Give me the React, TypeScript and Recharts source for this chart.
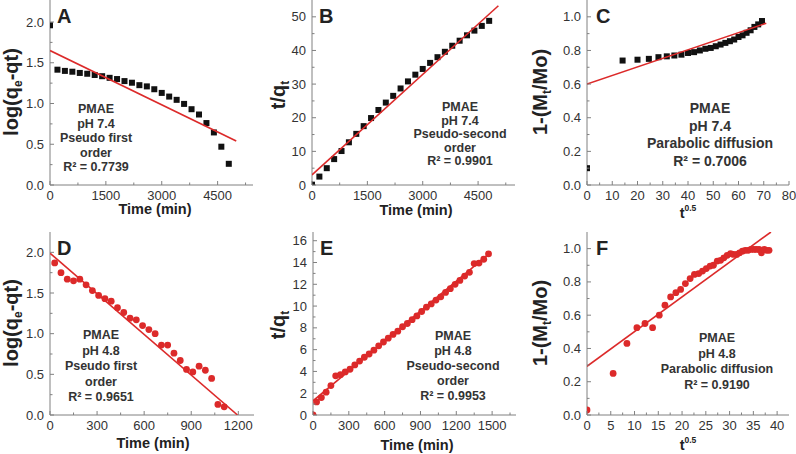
import React from 'react';
import { ScatterChart, Scatter, XAxis, YAxis } from 'recharts';

const FONT = '"Liberation Sans", Arial, Helvetica, sans-serif';
const AXIS = '#808080';
const RED = '#dc2a2a';
const BLACK = '#111111';
const TXT = '#333333';

// ---------- Panel A (pH 7.4, pseudo first order) ----------
const timeA = [0, 200, 400, 600, 800, 1000, 1200, 1400, 1600, 1800, 2000, 2200, 2400, 2600, 2800, 3000, 3200, 3400, 3600, 3800, 4000, 4200, 4400, 4600, 4800];
const logA = [1.96, 1.415, 1.4, 1.39, 1.375, 1.365, 1.35, 1.335, 1.315, 1.3, 1.275, 1.255, 1.225, 1.21, 1.175, 1.13, 1.085, 1.045, 0.995, 0.93, 0.865, 0.76, 0.645, 0.47, 0.26];
const fitAx = [0, 5000];
const fitAy = [1.65, 0.54];

// ---------- Panel B (pH 7.4, pseudo second order) ----------
const timeB = [0, 200, 400, 600, 800, 1000, 1200, 1400, 1600, 1800, 2000, 2200, 2400, 2600, 2800, 3000, 3200, 3400, 3600, 3800, 4000, 4200, 4400, 4600, 4800];
const tqB = [0.1, 2.5, 5.0, 7.7, 10.1, 12.7, 15.2, 17.5, 19.9, 22.3, 24.5, 26.5, 28.7, 30.8, 32.8, 34.5, 36.3, 38.0, 39.6, 41.4, 42.9, 44.5, 45.9, 47.3, 48.8];
const fitBx = [0, 5050];
const fitBy = [3.0, 53.3];

// ---------- Panel C (pH 7.4, parabolic diffusion) ----------
const sqrtC = [0, 14.1, 20.0, 24.5, 28.3, 31.6, 34.6, 37.4, 40.0, 42.4, 44.7, 46.9, 49.0, 51.0, 52.9, 54.8, 56.6, 58.3, 60.0, 61.6, 63.2, 64.8, 66.3, 67.8, 69.3];
const relC = [0.1, 0.74, 0.745, 0.75, 0.76, 0.765, 0.77, 0.775, 0.785, 0.79, 0.8, 0.81, 0.815, 0.825, 0.835, 0.845, 0.855, 0.865, 0.88, 0.89, 0.905, 0.92, 0.94, 0.955, 0.975];
const fitCx = [0, 71];
const fitCy = [0.6, 0.962];

// ---------- Panel D (pH 4.8, pseudo first order) ----------
const timeD = [30, 70, 110, 150, 190, 230, 270, 310, 350, 390, 430, 470, 510, 550, 590, 630, 670, 710, 750, 790, 830, 870, 910, 950, 990, 1030, 1070, 1110];
const logD = [1.87, 1.75, 1.67, 1.65, 1.67, 1.6, 1.53, 1.47, 1.43, 1.4, 1.32, 1.26, 1.19, 1.17, 1.1, 1.05, 1.0, 0.86, 0.86, 0.76, 0.67, 0.56, 0.53, 0.6, 0.55, 0.45, 0.13, 0.1];
const fitDx = [0, 1195];
const fitDy = [1.99, 0.0];

// ---------- Panel E (pH 4.8, pseudo second order) ----------
const timeE = [0, 30, 70, 110, 150, 190, 230, 270, 310, 350, 390, 430, 470, 510, 550, 590, 630, 670, 710, 750, 790, 830, 870, 910, 950, 990, 1030, 1070, 1110, 1150, 1190, 1230, 1270, 1310, 1350, 1390, 1430, 1470];
const tqE = [0, 1.2, 1.6, 2.1, 2.7, 3.6, 3.7, 3.95, 4.2, 4.6, 4.95, 5.3, 5.6, 5.95, 6.35, 6.7, 7.05, 7.4, 7.7, 8.1, 8.4, 8.75, 9.1, 9.5, 9.9, 10.2, 10.55, 10.85, 11.25, 11.6, 12.0, 12.35, 12.75, 13.1, 13.9, 13.95, 14.3, 14.8];
const fitEx = [0, 1480];
const fitEy = [1.3, 14.85];

// ---------- Panel F (pH 4.8, parabolic diffusion) ----------
const sqrtF = [0, 5.5, 8.4, 10.5, 12.2, 13.8, 15.2, 16.4, 17.6, 18.7, 19.7, 20.7, 21.7, 22.6, 23.5, 24.3, 25.1, 25.9, 26.6, 27.4, 28.1, 28.8, 29.5, 30.2, 30.8, 31.5, 32.1, 32.7, 33.3, 33.9, 34.5, 35.1, 35.6, 36.2, 36.7, 37.3, 37.8, 38.3];
const relF = [0.03, 0.25, 0.43, 0.525, 0.55, 0.525, 0.6, 0.66, 0.71, 0.735, 0.755, 0.79, 0.82, 0.845, 0.85, 0.865, 0.88, 0.895, 0.9, 0.925, 0.93, 0.945, 0.96, 0.97, 0.965, 0.965, 0.975, 0.985, 0.99, 0.99, 0.995, 0.995, 0.995, 0.995, 0.975, 0.995, 0.99, 0.99];
const fitFx = [0, 38.7];
const fitFy = [0.293, 1.1];

// ---------- Ticks ----------
const timeTicks5000 = [0, 1500, 3000, 4500];
const timeMinor5000 = [750, 2250, 3750, 5250];
const timeTicks1200 = [0, 300, 600, 900, 1200];
const timeMinor1200 = [150, 450, 750, 1050];
const timeTicks1500 = [0, 300, 600, 900, 1200, 1500];
const timeMinor1500 = [150, 450, 750, 1050, 1350, 1650];
const sqrtTicksC = [0, 10, 20, 30, 40, 50, 60, 70, 80];
const sqrtMinorC = [5, 15, 25, 35, 45, 55, 65, 75];
const sqrtTicksF = [0, 5, 10, 15, 20, 25, 30, 35, 40];
const sqrtMinorF = [2.5, 7.5, 12.5, 17.5, 22.5, 27.5, 32.5, 37.5];
const logTicks = [0, 0.5, 1.0, 1.5, 2.0];
const logMinor = [0.25, 0.75, 1.25, 1.75];
const tqTicksB = [0, 10, 20, 30, 40, 50];
const tqMinorB = [5, 15, 25, 35, 45];
const tqTicksE = [0, 2, 4, 6, 8, 10, 12, 14, 16];
const tqMinorE = [1, 3, 5, 7, 9, 11, 13, 15];
const relTicks = [0, 0.2, 0.4, 0.6, 0.8, 1.0];
const relMinor = [0.1, 0.3, 0.5, 0.7, 0.9];

const fmt0 = (v: number) => String(v);
const fmt1 = (v: number) => v.toFixed(1);

const zip = (xs: number[], ys: number[]) => xs.map((x, i) => ({ x, y: ys[i] }));

const isIn = (arr: number[], v: number) => arr.some((m) => Math.abs(m - v) < 1e-9);

const makeXTick = (majors: number[], fmt: (v: number) => string) => (props: any) => {
  const { x, y, payload } = props;
  const v = payload.value;
  const major = isIn(majors, v);
  return (
    <g>
      <line x1={x} x2={x} y1={y} y2={y - (major ? 4 : 2.5)} stroke={AXIS} strokeWidth={1} />
      {major && (
        <text x={x} y={y + 14.5} textAnchor="middle" fontSize={13} fill={TXT} fontFamily={FONT}>
          {fmt(v)}
        </text>
      )}
    </g>
  );
};

const makeYTick = (majors: number[], fmt: (v: number) => string) => (props: any) => {
  const { x, y, payload } = props;
  const v = payload.value;
  const major = isIn(majors, v);
  return (
    <g>
      <line x1={x} x2={x + (major ? 4 : 2.5)} y1={y} y2={y} stroke={AXIS} strokeWidth={1} />
      {major && (
        <text x={x - 6} y={y + 4.5} textAnchor="end" fontSize={13} fill={TXT} fontFamily={FONT}>
          {fmt(v)}
        </text>
      )}
    </g>
  );
};

const SquareDot = (p: any) => <rect x={p.cx - 3} y={p.cy - 3} width={6} height={6} fill={BLACK} />;
const RoundDot = (p: any) => <circle cx={p.cx} cy={p.cy} r={3.4} fill={RED} />;
const NoDot = () => <g />;

type PanelProps = {
  left: number;
  top: number;
  w: number;
  h: number;
  xDomain: [number, number];
  yDomain: [number, number];
  xMajor: number[];
  xMinor: number[];
  yMajor: number[];
  yMinor: number[];
  xFmt: (v: number) => string;
  yFmt: (v: number) => string;
  points: { x: number; y: number }[];
  fit: { x: number; y: number }[];
  round: boolean;
};

const Panel = (p: PanelProps) => {
  const ML = 50;
  const MT = 5;
  const MR = 10;
  const MB = 30;
  return (
    <div style={{ position: 'absolute', left: p.left - ML, top: p.top - MT }}>
      <ScatterChart
        width={p.w + ML + MR}
        height={p.h + MT + MB}
        margin={{ top: MT, right: MR, bottom: 0, left: 0 }}
      >
        <XAxis
          xAxisId="b"
          type="number"
          dataKey="x"
          domain={p.xDomain}
          ticks={[...p.xMajor, ...p.xMinor].filter((v) => v <= p.xDomain[1])}
          interval={0}
          tickSize={0}
          tickMargin={0}
          tickLine={false}
          height={MB}
          axisLine={{ stroke: AXIS, strokeWidth: 1 }}
          tick={makeXTick(p.xMajor, p.xFmt)}
          allowDataOverflow
        />
        <XAxis
          xAxisId="t"
          type="number"
          orientation="top"
          domain={p.xDomain}
          height={0}
          tick={false}
          tickLine={false}
          axisLine={{ stroke: AXIS, strokeWidth: 1 }}
          allowDataOverflow
        />
        <YAxis
          yAxisId="l"
          type="number"
          dataKey="y"
          domain={p.yDomain}
          ticks={[...p.yMajor, ...p.yMinor].filter((v) => v <= p.yDomain[1])}
          interval={0}
          tickSize={0}
          tickMargin={0}
          tickLine={false}
          width={ML}
          axisLine={{ stroke: AXIS, strokeWidth: 1 }}
          tick={makeYTick(p.yMajor, p.yFmt)}
          allowDataOverflow
        />
        <YAxis
          yAxisId="r"
          type="number"
          orientation="right"
          domain={p.yDomain}
          width={0}
          tick={false}
          tickLine={false}
          axisLine={{ stroke: AXIS, strokeWidth: 1 }}
          allowDataOverflow
        />
        <Scatter
          xAxisId="b"
          yAxisId="l"
          data={p.points}
          shape={p.round ? RoundDot : SquareDot}
          isAnimationActive={false}
        />
        <Scatter
          xAxisId="b"
          yAxisId="l"
          data={p.fit}
          shape={NoDot}
          line={{ stroke: RED, strokeWidth: 1.6 }}
          isAnimationActive={false}
        />
      </ScatterChart>
    </div>
  );
};

const Annot = ({ cx, y0, dy, size, lines }: { cx: number; y0: number; dy: number; size: number; lines: string[] }) => (
  <g>
    {lines.map((l, i) => (
      <text key={i} x={cx} y={y0 + i * dy} textAnchor="middle" fontSize={size} fontWeight="bold" fill={TXT} fontFamily={FONT}>
        {l}
      </text>
    ))}
  </g>
);

const Letter = ({ x, y, c }: { x: number; y: number; c: string }) => (
  <text x={x} y={y} fontSize={20} fontWeight="bold" fill="#222" fontFamily={FONT}>
    {c}
  </text>
);

const YTitleLog = ({ x, y }: { x: number; y: number }) => (
  <text transform={`translate(${x},${y}) rotate(-90)`} textAnchor="middle" fontSize={20} fontWeight="bold" fill="#222" fontFamily={FONT}>
    log(q<tspan dy={4} fontSize={12}>e</tspan>
    <tspan dy={-4}>-qt)</tspan>
  </text>
);

const YTitleTq = ({ x, y }: { x: number; y: number }) => (
  <text transform={`translate(${x},${y}) rotate(-90)`} textAnchor="middle" fontSize={20} fontWeight="bold" fill="#222" fontFamily={FONT}>
    t/q<tspan dy={4} fontSize={12}>t</tspan>
  </text>
);

const YTitleRel = ({ x, y }: { x: number; y: number }) => (
  <text transform={`translate(${x},${y}) rotate(-90)`} textAnchor="middle" fontSize={20} fontWeight="bold" fill="#222" fontFamily={FONT}>
    1-(M<tspan dy={4} fontSize={12}>t</tspan>
    <tspan dy={-4}>/Mo)</tspan>
  </text>
);

const XTitleTime = ({ x, y }: { x: number; y: number }) => (
  <text x={x} y={y} textAnchor="middle" fontSize={14.5} fontWeight="bold" fill="#222" fontFamily={FONT}>
    Time (min)
  </text>
);

const XTitleSqrt = ({ x, y }: { x: number; y: number }) => (
  <text x={x} y={y} textAnchor="middle" fontSize={14.5} fontWeight="bold" fill="#222" fontFamily={FONT}>
    t<tspan dy={-7} fontSize={8.5}>0.5</tspan>
  </text>
);

export default function App() {
  return (
    <div style={{ position: 'fixed', left: 0, top: 0, width: 796, height: 454, overflow: 'hidden', background: '#fff' }}>
      <Panel left={50} top={0} w={203} h={185} xDomain={[0, 5450]} yDomain={[0, 2.27]}
        xMajor={timeTicks5000} xMinor={timeMinor5000} yMajor={logTicks} yMinor={logMinor}
        xFmt={fmt0} yFmt={fmt1} points={zip(timeA, logA)} fit={zip(fitAx, fitAy)} round={false} />
      <Panel left={312} top={0} w={203} h={185} xDomain={[0, 5500]} yDomain={[0, 55]}
        xMajor={timeTicks5000} xMinor={timeMinor5000} yMajor={tqTicksB} yMinor={tqMinorB}
        xFmt={fmt0} yFmt={fmt0} points={zip(timeB, tqB)} fit={zip(fitBx, fitBy)} round={false} />
      <Panel left={587} top={0} w={202} h={185} xDomain={[0, 80]} yDomain={[0, 1.1]}
        xMajor={sqrtTicksC} xMinor={sqrtMinorC} yMajor={relTicks} yMinor={relMinor}
        xFmt={fmt0} yFmt={fmt1} points={zip(sqrtC, relC)} fit={zip(fitCx, fitCy)} round={false} />
      <Panel left={50} top={232} w={204} h={183} xDomain={[0, 1300]} yDomain={[0, 2.25]}
        xMajor={timeTicks1200} xMinor={timeMinor1200} yMajor={logTicks} yMinor={logMinor}
        xFmt={fmt0} yFmt={fmt1} points={zip(timeD, logD)} fit={zip(fitDx, fitDy)} round={true} />
      <Panel left={313} top={232} w={203} h={183} xDomain={[0, 1700]} yDomain={[0, 16.8]}
        xMajor={timeTicks1500} xMinor={timeMinor1500} yMajor={tqTicksE} yMinor={tqMinorE}
        xFmt={fmt0} yFmt={fmt0} points={zip(timeE, tqE)} fit={zip(fitEx, fitEy)} round={true} />
      <Panel left={587} top={232} w={202} h={183} xDomain={[0, 42.5]} yDomain={[0, 1.1]}
        xMajor={sqrtTicksF} xMinor={sqrtMinorF} yMajor={relTicks} yMinor={relMinor}
        xFmt={fmt0} yFmt={fmt1} points={zip(sqrtF, relF)} fit={zip(fitFx, fitFy)} round={true} />

      <svg width={796} height={454} style={{ position: 'absolute', left: 0, top: 0, pointerEvents: 'none' }}>
        <Letter x={57} y={23} c="A" />
        <Letter x={319} y={23} c="B" />
        <Letter x={596} y={23} c="C" />
        <Letter x={57} y={255} c="D" />
        <Letter x={320} y={255} c="E" />
        <Letter x={596} y={255} c="F" />

        <Annot cx={96} y0={113} dy={14.5} size={12.5} lines={['PMAE', 'pH 7.4', 'Pseudo first', 'order', 'R² = 0.7739']} />
        <Annot cx={460} y0={111} dy={13.5} size={12.5} lines={['PMAE', 'pH 7.4', 'Pseudo-second', 'order', 'R² = 0.9901']} />
        <Annot cx={710} y0={113} dy={17.5} size={14} lines={['PMAE', 'pH 7.4', 'Parabolic diffusion', 'R² = 0.7006']} />
        <Annot cx={101} y0={339} dy={15.5} size={12.5} lines={['PMAE', 'pH 4.8', 'Pseudo first', 'order', 'R² = 0.9651']} />
        <Annot cx={453} y0={340} dy={15} size={12.5} lines={['PMAE', 'pH 4.8', 'Pseudo-second', 'order', 'R² = 0.9953']} />
        <Annot cx={717} y0={342} dy={15.5} size={12.5} lines={['PMAE', 'pH 4.8', 'Parabolic diffusion', 'R² = 0.9190']} />

        <YTitleLog x={18} y={92} />
        <YTitleTq x={285} y={95} />
        <YTitleRel x={547} y={92} />
        <YTitleLog x={18} y={323} />
        <YTitleTq x={285} y={325} />
        <YTitleRel x={547} y={323} />

        <XTitleTime x={155} y={214} />
        <XTitleTime x={416} y={215} />
        <XTitleSqrt x={688} y={218} />
        <XTitleTime x={153} y={448} />
        <XTitleTime x={417} y={450} />
        <XTitleSqrt x={688} y={450} />
      </svg>
    </div>
  );
}
